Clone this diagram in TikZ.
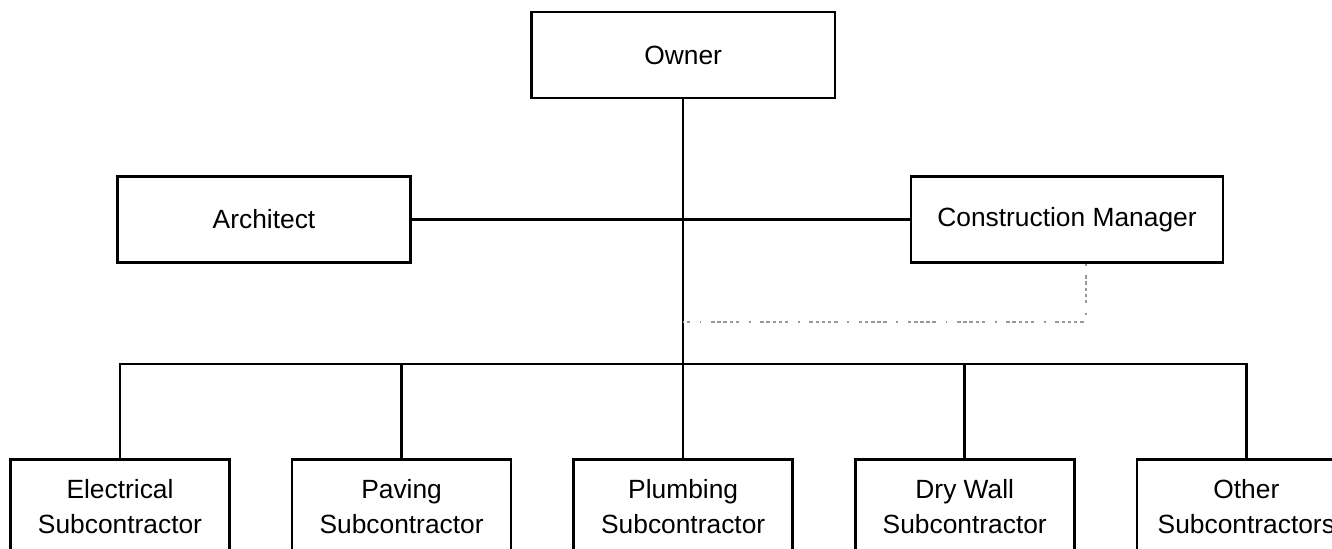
\documentclass[tikz,border=0pt]{standalone}
\usepackage{fontspec}
\setmainfont{Liberation Sans}
\usetikzlibrary{positioning}

\begin{document}
\begin{tikzpicture}[
  x=0.02cm, y=-0.02cm,
  node distance=1.2cm,
  party/.style={rectangle, draw, line width=1.5pt, minimum height=1.72cm, align=center, font=\fontsize{15}{20}\selectfont},
  trade/.style={rectangle, draw, line width=1.5pt, minimum width=4.38cm, minimum height=1.9cm, align=center, font=\fontsize{15}{20}\selectfont},
  link/.style={line width=1.5pt},
  advise/.style={gray!80, line width=0.9pt, dash pattern=on 1pt off 5.5pt on 2pt off 1.5pt on 2pt off 1.5pt on 2pt off 1.5pt on 2pt off 1.5pt on 2pt off 5.5pt}
]
\useasboundingbox (0,0) rectangle (1332,548);
\clip (0,0) rectangle (1332,548);

% Nodes
\node[trade, anchor=north] (elec) at (120,458) {Electrical\\Subcontractor};
\node[trade, right=of elec] (pave) {Paving\\Subcontractor};
\node[trade, right=of pave] (plumb) {Plumbing\\Subcontractor};
\node[trade, right=of plumb] (dry) {Dry Wall\\Subcontractor};
\node[trade, right=of dry] (other) {Other\\Subcontractors};
\node[party, minimum width=6.08cm] (owner) at (plumb |- 0,55) {Owner};
\node[party, minimum width=5.86cm] (arch) at (264,219.5) {Architect};
\node[party, minimum width=6.24cm] (cm) at (1067,219.5) {Construction Manager};
\coordinate (bus) at (plumb.north |- 0,364);
\coordinate (tap) at (plumb.north |- 0,322);

% Connections
\draw[link] (owner) -- (plumb);
\draw[link] (arch) -- (cm);
\draw[link] (elec.north) |- (bus) -| (other.north);
\draw[link] (pave.north) -- (pave.north |- bus);
\draw[link] (dry.north) -- (dry.north |- bus);
\draw[advise] ([xshift=0.38cm]cm.south) |- (tap);

\end{tikzpicture}
\end{document}
